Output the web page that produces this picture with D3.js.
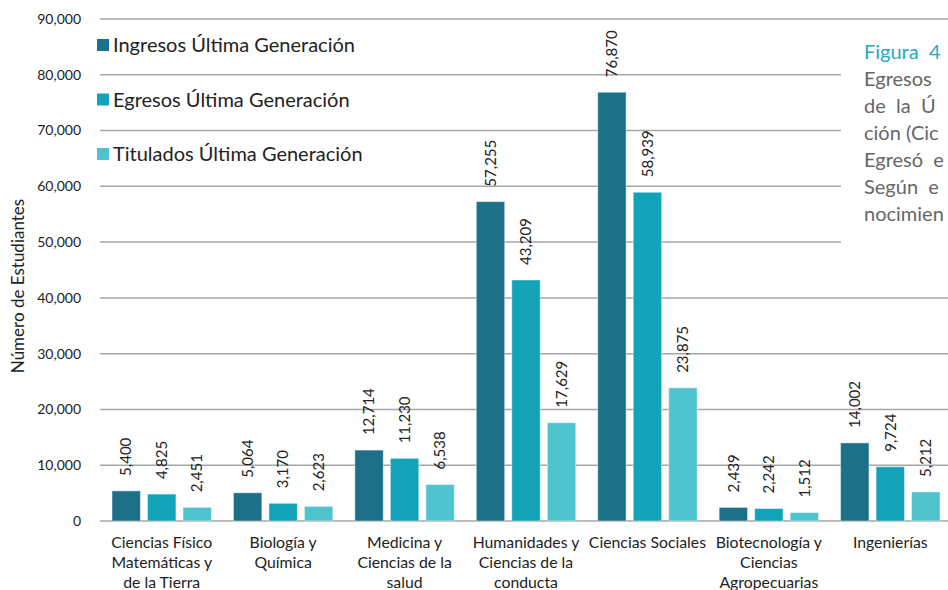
<!DOCTYPE html>
<html>
<head>
<meta charset="utf-8">
<script src="https://cdn.jsdelivr.net/npm/d3@7"></script>
<style>
  body { margin: 0; background: #fff; }
  svg { display: block; font-family: "Source Sans Pro", Lato, "Noto Sans", sans-serif; }
</style>
</head>
<body>
<div id="chart"></div>
<script>
// data
const categories = [
    ["Ciencias Físico", "Matemáticas y", "de la Tierra"],
    ["Biología y", "Química"],
    ["Medicina y", "Ciencias de la", "salud"],
    ["Humanidades y", "Ciencias de la", "conducta"],
    ["Ciencias Sociales"],
    ["Biotecnología y", "Ciencias", "Agropecuarias"],
    ["Ingenierías"]
];
const seriesNames = ["Ingresos Última Generación", "Egresos Última Generación", "Titulados Última Generación"];
const ingresos = [5400, 5064, 12714, 57255, 76870, 2439, 14002];
const egresos = [4825, 3170, 11230, 43209, 58939, 2242, 9724];
const titulados = [2451, 2623, 6538, 17629, 23875, 1512, 5212];
const yTicks = [0, 10000, 20000, 30000, 40000, 50000, 60000, 70000, 80000, 90000];
const sideText = ["Egresos", "de  la  Ú", "ción (Cic", "Egresó  e", "Según  e", "nocimien"];

const colors = ["#1c7189", "#13a3b9", "#4fc4ce"];
const allSeries = [ingresos, egresos, titulados];

const width = 948, height = 590;
const svg = d3.select("#chart").append("svg")
    .attr("width", width)
    .attr("height", height);

const x0 = d3.scaleBand()
    .domain(d3.range(categories.length))
    .range([101, 951])
    .paddingInner(0)
    .paddingOuter(0);

const x1 = d3.scaleBand()
    .domain(d3.range(3))
    .range([11, x0.bandwidth() - 11])
    .paddingInner(0.2);

const y = d3.scaleLinear()
    .domain([0, 90000])
    .range([521, 19]);

// gridlines
svg.append("g")
    .selectAll("line")
    .data(yTicks)
    .join("line")
    .attr("x1", 100)
    .attr("x2", width)
    .attr("y1", d => y(d))
    .attr("y2", d => y(d))
    .style("stroke", "#a6a6a6")
    .style("stroke-width", "1.5px");

// y tick labels
svg.append("g")
    .selectAll("text")
    .data(yTicks)
    .join("text")
    .attr("x", 81)
    .attr("y", d => y(d))
    .attr("dy", "0.35em")
    .attr("text-anchor", "end")
    .style("font-size", "14px")
    .style("fill", "#222")
    .text(d => d3.format(",")(d));

// y axis title
svg.append("text")
    .attr("transform", "translate(24,286) rotate(-90)")
    .attr("text-anchor", "middle")
    .style("font-size", "17px")
    .style("fill", "#222")
    .text("Número de Estudiantes");

// bars
const groups = svg.append("g")
    .selectAll("g")
    .data(categories)
    .join("g")
    .attr("transform", (d, i) => `translate(${x0(i)},0)`);

groups.selectAll("rect")
    .data((d, i) => allSeries.map((s, j) => ({ j: j, v: s[i] })))
    .join("rect")
    .attr("x", d => x1(d.j))
    .attr("width", x1.bandwidth())
    .attr("y", d => y(d.v))
    .attr("height", d => y(0) - y(d.v))
    .style("fill", d => colors[d.j])
    .style("stroke", "rgba(255,255,255,0.45)")
    .style("stroke-width", "1px");

// value labels
groups.selectAll("text.val")
    .data((d, i) => allSeries.map((s, j) => ({ j: j, v: s[i] })))
    .join("text")
    .attr("class", "val")
    .attr("transform", d => `translate(${x1(d.j) + x1.bandwidth() / 2},${y(d.v) - 15}) rotate(-90)`)
    .attr("dy", "0.35em")
    .style("font-size", "15px")
    .style("fill", "#222")
    .text(d => d3.format(",")(d.v));

// category labels
const catText = svg.append("g")
    .selectAll("text")
    .data(categories)
    .join("text")
    .attr("text-anchor", "middle")
    .style("font-size", "15.8px")
    .style("fill", "#222");

catText.selectAll("tspan")
    .data((d, i) => d.map(line => ({ line: line, i: i })))
    .join("tspan")
    .attr("x", d => x0(d.i) + x0.bandwidth() / 2)
    .attr("y", (d, k) => 548 + k * 20)
    .text(d => d.line);

// legend
const legend = svg.append("g")
    .selectAll("g")
    .data(seriesNames)
    .join("g")
    .attr("transform", (d, i) => `translate(97,${45 + i * 54.5})`);

legend.append("rect")
    .attr("x", 0)
    .attr("y", -6)
    .attr("width", 12)
    .attr("height", 12)
    .style("fill", (d, i) => colors[i]);

legend.append("text")
    .attr("x", 16)
    .attr("dy", "0.35em")
    .style("font-size", "20px")
    .style("fill", "#222")
    .text(d => d);

// white panel with the figure caption on the right
svg.append("rect")
    .attr("x", 841)
    .attr("y", 30)
    .attr("width", width - 841)
    .attr("height", 216)
    .style("fill", "#fff");

svg.append("text")
    .attr("x", 864)
    .attr("y", 59)
    .style("font-size", "20px")
    .style("fill", "#27a9c4")
    .style("white-space", "pre")
    .text("Figura  4");

svg.append("g")
    .selectAll("text")
    .data(sideText)
    .join("text")
    .attr("x", 864)
    .attr("y", (d, i) => 86 + i * 27)
    .style("font-size", "20px")
    .style("fill", "#666")
    .style("white-space", "pre")
    .text(d => d);
</script>
</body>
</html>
